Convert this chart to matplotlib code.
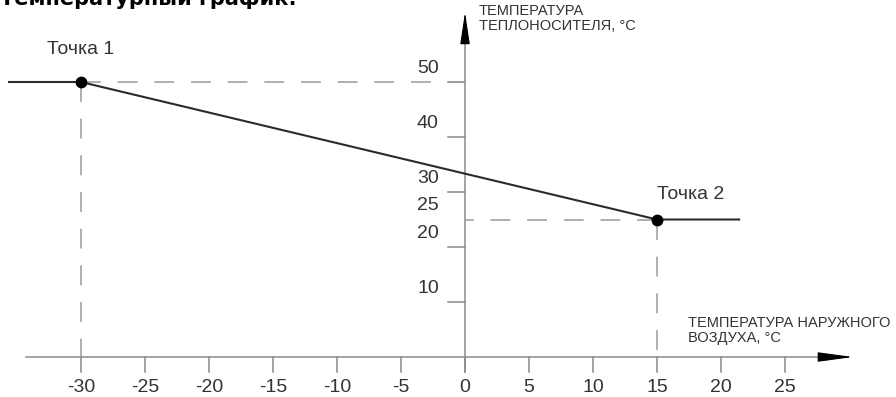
import matplotlib
matplotlib.use("Agg")
import matplotlib.pyplot as plt

# schedule: flat below -30 °C, linear between the two points, flat above +15 °C
T_OUT = [-35.7, -30, 15, 21.5]
T_SUP = [50, 50, 25, 25]
POINTS_X = [-30, 15]
POINTS_Y = [50, 25]
POINT_NAMES = ["Точка 1", "Точка 2"]

X_TICKS = [-30, -25, -20, -15, -10, -5, 0, 5, 10, 15, 20, 25]
Y_TICKS = [10, 20, 30, 40, 50]
Y_LABELS = [10, 20, 25, 30, 40, 50]

AXIS_C = "#8a8a8a"
DASH_C = "#9a9a9a"
LINE_C = "#2b2b2b"
TEXT_C = "#333333"
FONT = "Liberation Sans"

fig = plt.figure(figsize=(8.96, 3.97), dpi=100)
ax = fig.add_axes([0, 0, 1, 1])
ax.set_xlim(-36.33, 33.67)
ax.set_ylim(-7.27, 64.91)
ax.axis("off")

# axes with arrows
ax.plot([-34.3, 28], [0, 0], color=AXIS_C, lw=1.1)
ax.plot([0, 0], [-2.7, 58], color=AXIS_C, lw=1.1)
ax.annotate("", xy=(30.3, 0), xytext=(27.8, 0),
            arrowprops=dict(arrowstyle="-|>,head_length=2.2,head_width=0.3",
                            color="black", lw=0.8, mutation_scale=10,
                            shrinkA=0, shrinkB=0))
ax.annotate("", xy=(0, 62.7), xytext=(0, 57.5),
            arrowprops=dict(arrowstyle="-|>,head_length=2.0,head_width=0.3",
                            color="black", lw=0.8, mutation_scale=10,
                            shrinkA=0, shrinkB=0))

# ticks
for x in X_TICKS:
    ax.plot([x, x], [0, -2.7], color=AXIS_C, lw=1.1)
    ax.text(x, -5.6, str(x), ha="center", va="center", fontsize=14,
            color=TEXT_C, family=FONT)
for y in Y_TICKS:
    ax.plot([-1.33, 0], [y, y], color=AXIS_C, lw=1.1)
for y in Y_LABELS:
    ax.text(-2.9, y + 2.5, str(y), ha="center", va="center", fontsize=14,
            color=TEXT_C, family=FONT)

# dashed guides
dash = dict(color=DASH_C, lw=1.1, dashes=(13, 11))
for px, py in zip(POINTS_X, POINTS_Y):
    ax.plot([px, 0], [py, py], **dash)
    ax.plot([px, px], [py, 0], **dash)

# schedule line and points
ax.plot(T_OUT, T_SUP, color=LINE_C, lw=1.5, solid_capstyle="butt")
ax.plot(POINTS_X, POINTS_Y, "o", color="black", markersize=7.5, zorder=5)
ax.text(POINTS_X[0], 56, POINT_NAMES[0], ha="center", va="center",
        fontsize=14, color=TEXT_C, family=FONT)
ax.text(POINTS_X[1], 29.5, POINT_NAMES[1], ha="left", va="center",
        fontsize=14, color=TEXT_C, family=FONT)

# axis titles
ax.text(1.1, 61.5, "ТЕМПЕРАТУРА\nТЕПЛОНОСИТЕЛЯ, °C", ha="left", va="center",
        fontsize=10.5, color=TEXT_C, family=FONT, linespacing=1.1)
ax.text(17.4, 4.8, "ТЕМПЕРАТУРА НАРУЖНОГО\nВОЗДУХА, °C", ha="left",
        va="center", fontsize=10.5, color=TEXT_C, family=FONT, linespacing=1.1)

# chart title, cut by the top edge as in the source
ax.text(-36.33, 64.0, "Температурный график:", ha="left", va="baseline",
        fontsize=15, fontweight="bold", color="black", family="DejaVu Sans")

fig.savefig("out.png", dpi=100)
